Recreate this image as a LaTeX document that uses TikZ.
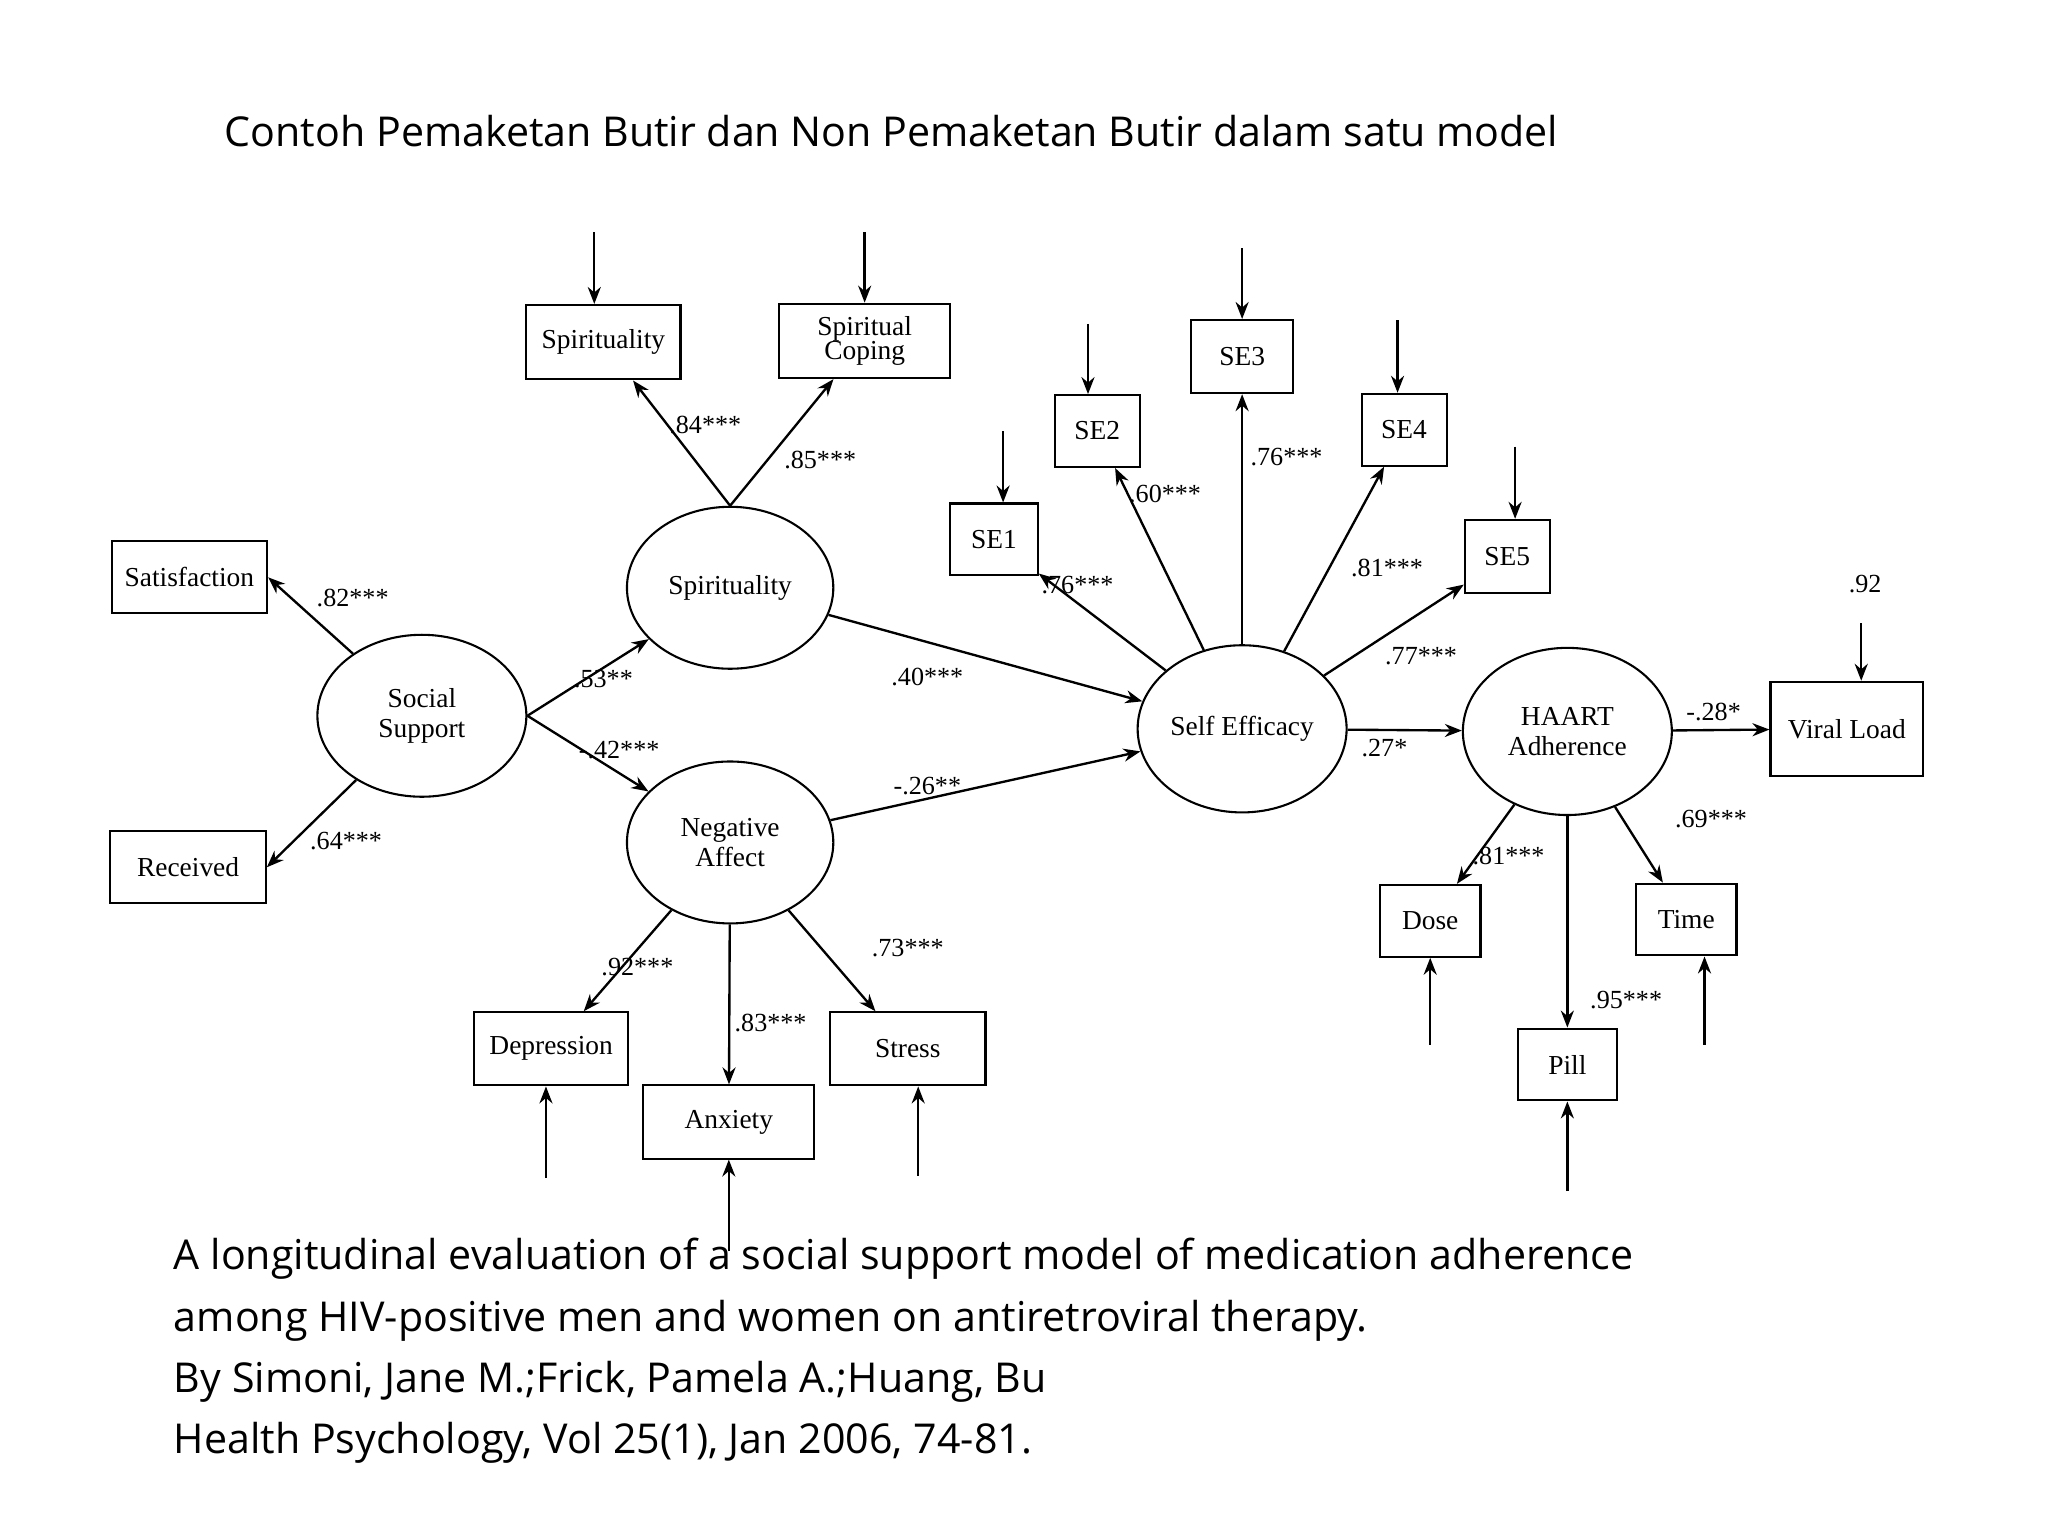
\documentclass[tikz,border=0pt]{standalone}
\usepackage{fontspec}
\setmainfont{Liberation Serif}
\newfontfamily\capfont{Open Sans}
\usetikzlibrary{shapes.geometric,arrows.meta}
\begin{document}
\begin{tikzpicture}[x=1pt,y=-1pt,
  box/.style={draw,line width=1.6pt,rectangle,inner sep=0pt,font=\fontsize{21}{23}\selectfont,align=center},
  lat/.style={draw,line width=1.6pt,ellipse,minimum width=158pt,minimum height=124pt,inner sep=0pt,font=\fontsize{21}{23}\selectfont,align=center},
  arr/.style={line width=1.8pt,-{Stealth[length=13pt,width=10pt]}},
  lab/.style={font=\fontsize{20}{22}\selectfont,inner sep=1pt},
  captxt/.style={font=\capfont\fontsize{31.5}{34}\selectfont,anchor=west,inner sep=0pt}]
\useasboundingbox (0,0) rectangle (1568,1176);
\node[captxt] (title) at (172,100) {Contoh Pemaketan Butir dan Non Pemaketan Butir dalam satu model};
% boxes
\node[box,minimum width=119pt,minimum height=55pt] (sat) at (145,442) {Satisfaction};
\node[box,minimum width=119pt,minimum height=55pt] (rec) at (144,664) {Received};
\node[box,minimum width=118pt,minimum height=57pt] (spb) at (462,262) {Spirituality};
\node[box,minimum width=131pt,minimum height=57pt] (spc) at (662,261) {Spiritual\\[-4pt]Coping};
\node[box,minimum width=118pt,minimum height=56pt] (dep) at (422,803) {Depression};
\node[box,minimum width=131pt,minimum height=56pt] (anx) at (558,859) {Anxiety};
\node[box,minimum width=119pt,minimum height=56pt] (str) at (695,803) {Stress};
\node[box,minimum width=67pt,minimum height=55pt] (se1) at (761,413) {SE1};
\node[box,minimum width=65pt,minimum height=55pt] (se2) at (840,330) {SE2};
\node[box,minimum width=78pt,minimum height=56pt] (se3) at (951,273) {SE3};
\node[box,minimum width=65pt,minimum height=55pt] (se4) at (1075,329) {SE4};
\node[box,minimum width=65pt,minimum height=56pt] (se5) at (1154,426) {SE5};
\node[box,minimum width=117pt,minimum height=72pt] (vl) at (1414,558) {Viral Load};
\node[box,minimum width=77pt,minimum height=55pt] (dose) at (1095,705) {Dose};
\node[box,minimum width=77pt,minimum height=55pt] (time) at (1291,704) {Time};
\node[box,minimum width=76pt,minimum height=55pt] (pill) at (1200,815) {Pill};
% latents
\node[lat,minimum width=160pt] (ss) at (323,548) {Social\\Support};
\node[lat] (sp) at (559,450) {Spirituality};
\node[lat] (na) at (559,645) {Negative\\Affect};
\node[lat,minimum width=160pt,minimum height=128pt] (se) at (951,558) {Self Efficacy};
\node[lat,minimum width=160pt,minimum height=128pt] (ha) at (1200,560) {HAART\\Adherence};
% error coordinates
\coordinate (e1) at (455,178); \coordinate (e2) at (662,178);
\coordinate (e3) at (768,330); \coordinate (e4) at (833,248);
\coordinate (e5) at (951,190); \coordinate (e6) at (1070,245);
\coordinate (e7) at (1160,342); \coordinate (e8) at (1425,477);
\coordinate (e9) at (1095,800); \coordinate (e10) at (1305,800);
\coordinate (e11) at (1200,912); \coordinate (e12) at (418,902);
\coordinate (e13) at (558,958); \coordinate (e14) at (703,900);
\draw[arr] (e1) -- (e1 |- spb.north);
\draw[arr] (e2) -- (e2 |- spc.north);
\draw[arr] (e3) -- (e3 |- se1.north);
\draw[arr] (e4) -- (e4 |- se2.north);
\draw[arr] (e5) -- (se3.north);
\draw[arr] (e6) -- (e6 |- se4.north);
\draw[arr] (e7) -- (e7 |- se5.north);
\draw[arr] (e8) -- (e8 |- vl.north);
\draw[arr] (e9) -- (e9 |- dose.south);
\draw[arr] (e10) -- (e10 |- time.south);
\draw[arr] (e11) -- (pill.south);
\draw[arr] (e12) -- (e12 |- dep.south);
\draw[arr] (e13) -- (anx.south);
\draw[arr] (e14) -- (e14 |- str.south);
% paths
\draw[arr] (ss) -- (sat.east);
\draw[arr] (ss) -- (rec.east);
\draw[arr] (ss.east) -- (sp);
\draw[arr] (ss.east) -- (na);
\draw[arr] (sp.north) -- (spb);
\draw[arr] (sp.north) -- (spc);
\draw[arr] (sp) -- (se);
\draw[arr] (na) -- (se);
\draw[arr] (na) -- (dep);
\draw[arr] (na) -- (anx);
\draw[arr] (na) -- (str);
\draw[arr] (se) -- (se1);
\draw[arr] (se) -- (se2);
\draw[arr] (se) -- (se3);
\draw[arr] (se) -- (se4);
\draw[arr] (se) -- (se5);
\draw[arr] (se) -- (ha);
\draw[arr] (ha) -- (vl);
\draw[arr] (ha) -- (dose);
\draw[arr] (ha) -- (pill);
\draw[arr] (ha) -- (time);
% labels
\node[lab] (l1) at (270,458) {.82***};
\node[lab] (l2) at (265,644) {.64***};
\node[lab] (l3) at (462,520) {.53**};
\node[lab] (l4) at (474,574) {-.42***};
\node[lab] (l5) at (540,325) {.84***};
\node[lab] (l6) at (628,352) {.85***};
\node[lab] (l7) at (710,518) {.40***};
\node[lab] (l8) at (710,602) {-.26**};
\node[lab] (l9) at (488,740) {.92***};
\node[lab] (l10) at (590,783) {.83***};
\node[lab] (l11) at (695,726) {.73***};
\node[lab] (l12) at (825,448) {.76***};
\node[lab] (l13) at (892,378) {.60***};
\node[lab] (l14) at (985,350) {.76***};
\node[lab] (l15) at (1062,435) {.81***};
\node[lab] (l16) at (1088,502) {.77***};
\node[lab] (l17) at (1060,573) {.27*};
\node[lab] (l18) at (1312,545) {-.28*};
\node[lab] (l19) at (1155,655) {.81***};
\node[lab] (l20) at (1245,766) {.95***};
\node[lab] (l21) at (1310,627) {.69***};
\node[lab] (l22) at (1428,447) {.92};
% caption
\node[captxt] (c1) at (133,964) {A longitudinal evaluation of a social support model of medication adherence};
\node[captxt] (c2) at (133,1011) {among HIV-positive men and women on antiretroviral therapy.};
\node[captxt] (c3) at (133,1058) {By Simoni, Jane M.;Frick, Pamela A.;Huang, Bu};
\node[captxt] (c4) at (133,1105) {Health Psychology, Vol 25(1), Jan 2006, 74-81.};
\end{tikzpicture}
\end{document}
